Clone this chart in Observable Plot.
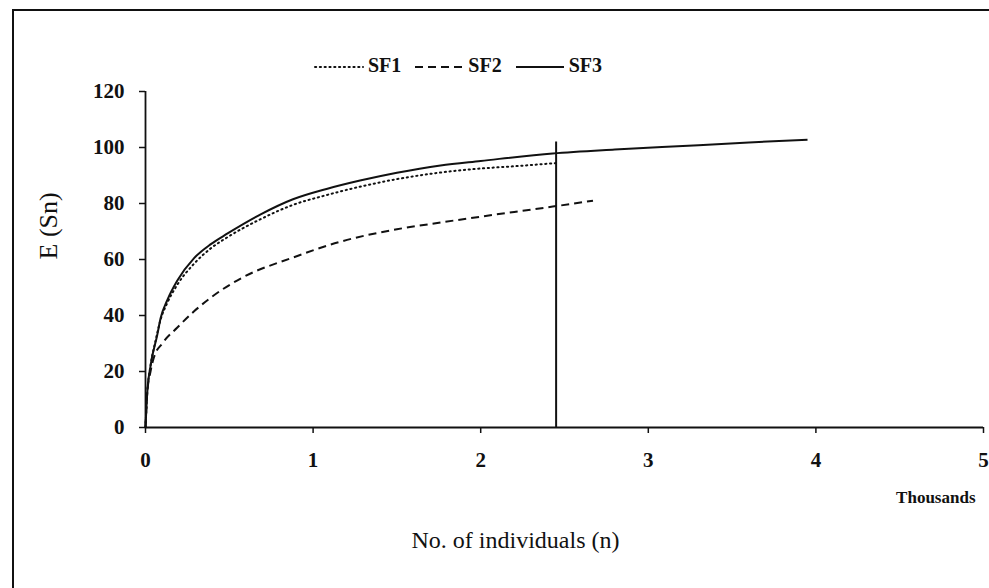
<!DOCTYPE html>
<html>
<head>
<meta charset="utf-8">
<script src="https://cdn.jsdelivr.net/npm/d3@7"></script>
<script src="https://cdn.jsdelivr.net/npm/@observablehq/plot@0.6"></script>
<style>
  html, body { margin: 0; padding: 0; background: #fff; overflow: hidden; }
  #wrap { position: relative; width: 989px; height: 588px; font-family: "Liberation Serif", "Times New Roman", serif; }
  #frame { position: absolute; left: 12px; top: 9px; width: 1100px; height: 700px; border-left: 2px solid #111; border-top: 2px solid #111; pointer-events: none; }
  #legend { position: relative; height: 70px; }
  #legend .items { position: absolute; left: 313px; top: 54px; display: flex; align-items: center; font-weight: bold; font-size: 20px; color: #111; }
  #legend .item { display: flex; align-items: center; margin-right: 12px; }
  #legend svg { margin-right: 3px; }
  #chart svg { display: block; }
</style>
</head>
<body>
<div id="wrap">
  <div id="frame"></div>
  <div id="legend"></div>
  <div id="chart"></div>
</div>
<script>
// ---- data (x in thousands of individuals, y = E(Sn)) ----
const seriesNames = ["SF1", "SF2", "SF3"];

const sf1X = [0, 0.01, 0.03, 0.06, 0.09, 0.13, 0.19, 0.29, 0.39, 0.49, 0.69, 0.88, 1.08, 1.28, 1.5, 1.75, 2.0, 2.2, 2.46];
const sf1Y = [0, 12, 22, 31, 38.5, 44.5, 51, 58.5, 64, 68, 74.5, 79.5, 83, 86, 88.7, 91, 92.5, 93.3, 94.5];

const sf2X = [0, 0.01, 0.03, 0.05, 0.1, 0.19, 0.29, 0.39, 0.58, 0.88, 1.16, 1.5, 1.76, 2.0, 2.2, 2.43, 2.67];
const sf2Y = [0, 12, 20, 25, 30, 35.7, 41.5, 46.4, 53.6, 60.7, 66.3, 70.8, 73.2, 75.3, 77, 78.9, 81];

const sf3X = [0, 0.01, 0.03, 0.07, 0.09, 0.13, 0.19, 0.29, 0.39, 0.49, 0.69, 0.88, 1.08, 1.28, 1.5, 1.76, 2.0, 2.43, 2.8, 3.3, 3.6, 3.95];
const sf3Y = [0, 12, 22, 33, 39, 45.5, 52.5, 60.5, 65.5, 69.3, 76.2, 81.5, 85.2, 88.2, 91, 93.6, 95.2, 97.9, 99.3, 100.8, 101.8, 102.8];

const refLineX = [2.45];
const refLineTop = 102;

const xTicks = [0, 1, 2, 3, 4, 5];
const yTicks = [0, 20, 40, 60, 80, 100, 120];

const xLabel = "No. of individuals (n)";
const xUnit = "Thousands";
const yLabel = "E (Sn)";

// ---- build ----
const styles = {
  SF1: {dash: "1.2,3.6", cap: "round"},
  SF2: {dash: "8,5", cap: "butt"},
  SF3: {dash: null, cap: "butt"}
};
const toRows = (name, xs, ys) => xs.map((x, i) => ({series: name, x, y: ys[i]}));
const rows = {
  SF1: toRows("SF1", sf1X, sf1Y),
  SF2: toRows("SF2", sf2X, sf2Y),
  SF3: toRows("SF3", sf3X, sf3Y)
};

// legend
const legendItems = document.createElement("div");
legendItems.className = "items";
seriesNames.forEach(name => {
  const it = document.createElement("div");
  it.className = "item";
  const s = styles[name];
  it.innerHTML = `<svg width="52" height="10"><line x1="2" y1="6" x2="50" y2="6" stroke="#111" stroke-width="2" ${s.dash ? `stroke-dasharray="${s.dash}"` : ""} stroke-linecap="${s.cap}"/></svg><span>${name}</span>`;
  legendItems.appendChild(it);
});
document.getElementById("legend").appendChild(legendItems);

const fontFam = '"Liberation Serif", "Times New Roman", serif';
const fmt = d3.format("d");

const plot = Plot.plot({
  width: 989,
  height: 518,
  marginLeft: 145,
  marginRight: 6,
  marginTop: 21,
  marginBottom: 161,
  style: {fontFamily: fontFam, color: "#111", background: "transparent", overflow: "visible"},
  x: {domain: [0, 5]},
  y: {domain: [0, 120]},
  marks: [
    Plot.axisY(yTicks, {tickSize: 6, tickPadding: 15, fontSize: 21, fontWeight: "bold", tickFormat: fmt, label: null, strokeWidth: 1.5}),
    Plot.axisX(xTicks, {tickSize: 6, tickPadding: 19, fontSize: 21, fontWeight: "bold", tickFormat: fmt, label: null, strokeWidth: 1.5}),
    Plot.ruleX([0], {stroke: "#111", strokeWidth: 1.8}),
    Plot.ruleY([0], {stroke: "#111", strokeWidth: 1.8}),
    Plot.ruleX(refLineX, {y1: 0, y2: refLineTop, stroke: "#111", strokeWidth: 2}),
    ...seriesNames.map(name => Plot.line(rows[name], {
      x: "x", y: "y", curve: "monotone-x",
      stroke: "#111", strokeWidth: 2,
      strokeDasharray: styles[name].dash || undefined,
      strokeLinecap: styles[name].cap
    })),
    Plot.text([xLabel], {frameAnchor: "bottom", dx: -49, dy: 120, fontSize: 24, fill: "#111"}),
    Plot.text([xUnit], {frameAnchor: "bottom-right", textAnchor: "end", dx: -8, dy: 75, fontSize: 17, fontWeight: "bold", fill: "#111"}),
    Plot.text([yLabel], {frameAnchor: "left", rotate: -90, dx: -97, fontSize: 26, fill: "#111"})
  ]
});
document.getElementById("chart").appendChild(plot);
</script>
</body>
</html>
